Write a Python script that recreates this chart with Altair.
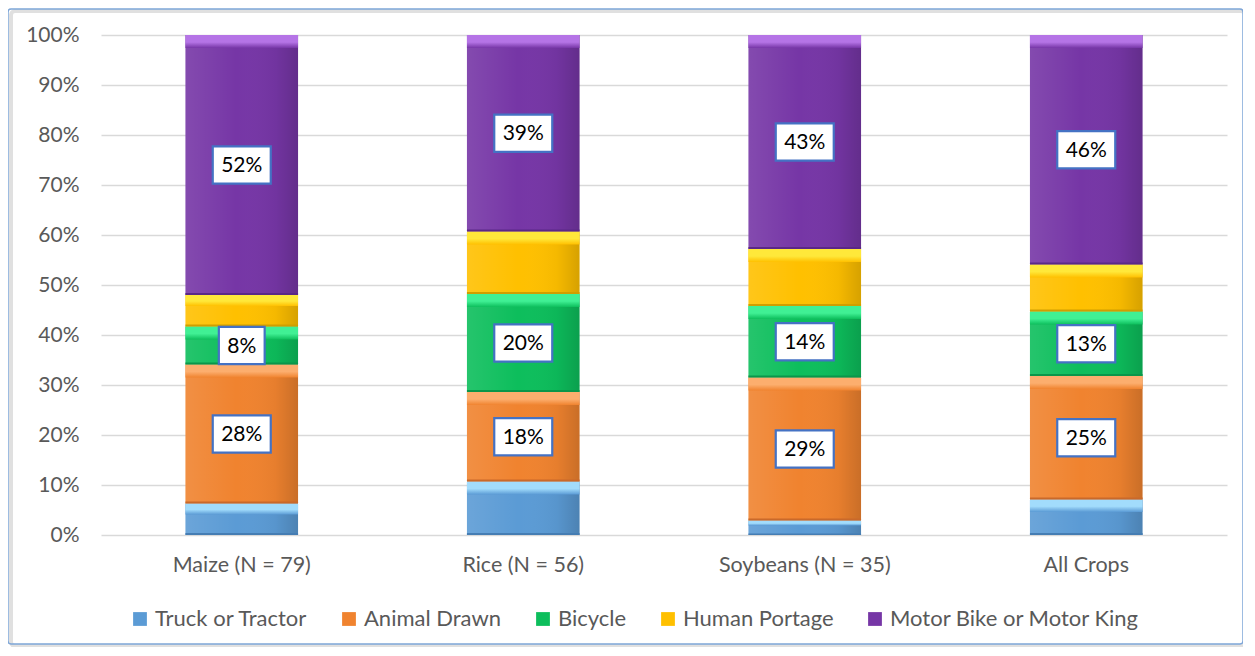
import altair as alt
import pandas as pd

categories = ["Maize (N = 79)", "Rice (N = 56)", "Soybeans (N = 35)", "All Crops"]
series = ["Truck or Tractor", "Animal Drawn", "Bicycle", "Human Portage", "Motor Bike or Motor King"]
truck = [6.3, 10.7, 2.9, 7.1]
animal = [27.8, 17.9, 28.6, 24.7]
bicycle = [7.6, 19.6, 14.3, 12.9]
human = [6.3, 12.5, 11.4, 9.4]
motor = [52.0, 39.3, 42.8, 45.9]
labelled = ["Animal Drawn", "Bicycle", "Motor Bike or Motor King"]
y_ticks = [0, 10, 20, 30, 40, 50, 60, 70, 80, 90, 100]

main_colors = ["#5B9BD5", "#F0832F", "#0DBE5C", "#FFC000", "#7636A6"]
light_colors = ["#A2DCFC", "#FCAE6E", "#40F094", "#FFE83A", "#B574E6"]
dark_colors = ["#457DB3", "#C9692A", "#0A964A", "#D09E00", "#5A2887"]

FONT = "Lato"
GREY = "#595959"

values = [truck, animal, bicycle, human, motor]
rows = []
for ci, cat in enumerate(categories):
    start = 0.0
    for si, s in enumerate(series):
        v = values[si][ci]
        end = start + v
        seg = end - start
        lab = f"{round(v)}%" if s in labelled else ""
        rows.append(dict(
            cat=cat, series=s, order=si, value=v, start=start, end=end,
            mid=(start + end) / 2,
            top_lo=end - min(2.6, 0.35 * seg),
            bot_hi=start + min(0.4, 0.1 * seg),
            dark=dark_colors[si],
            label=lab, box=("1" if len(lab) == 2 else "2"),
        ))
        start = end
df = pd.DataFrame(rows)
lab_df = df[df["label"] != ""]

x_enc = alt.X("cat:N", sort=categories, title=None,
              scale=alt.Scale(paddingInner=0.6, paddingOuter=0.3),
              axis=alt.Axis(labelAngle=0, labelFont=FONT, labelFontSize=21.5, labelColor=GREY,
                            labelPadding=19, ticks=False, domain=False, grid=False))
y_enc = alt.Y("start:Q", title=None,
              scale=alt.Scale(domain=[0, 100], nice=False),
              axis=alt.Axis(values=y_ticks, labelExpr="datum.value + '%'", labelFont=FONT,
                            labelFontSize=21, labelColor=GREY, labelPadding=22,
                            ticks=False, domain=False, gridColor="#D9D9D9", gridWidth=1.5))

base = alt.Chart(df)

main = base.mark_bar(strokeWidth=0).encode(
    x=x_enc, y=y_enc, y2="end:Q",
    color=alt.Color("series:N", sort=series,
                    scale=alt.Scale(domain=series, range=main_colors),
                    legend=alt.Legend(orient="none", legendX=28, legendY=573, direction="horizontal",
                                      title=None, symbolType="square", symbolSize=190,
                                      symbolStrokeWidth=0, labelFont=FONT, labelFontSize=22,
                                      labelColor=GREY, columnPadding=30, labelOffset=4,
                                      labelLimit=0)),
)

shade = base.mark_bar(
    color=alt.Gradient(gradient="linear", x1=0, x2=1, y1=0, y2=0,
                       stops=[alt.GradientStop(offset=0, color="rgba(255,255,255,0.10)"),
                              alt.GradientStop(offset=0.45, color="rgba(255,255,255,0.0)"),
                              alt.GradientStop(offset=0.8, color="rgba(0,0,0,0.04)"),
                              alt.GradientStop(offset=1, color="rgba(0,0,0,0.16)")])
).encode(x=alt.X("cat:N", sort=categories), y="start:Q", y2="end:Q")

tops = []
for si, s in enumerate(series):
    tops.append(
        base.transform_filter(alt.datum.series == s).mark_bar(
            strokeWidth=0,
            color=alt.Gradient(gradient="linear", x1=0, x2=0, y1=0, y2=1,
                               stops=[alt.GradientStop(offset=0, color=light_colors[si]),
                                      alt.GradientStop(offset=0.55, color=light_colors[si]),
                                      alt.GradientStop(offset=1, color=main_colors[si])])
        ).encode(x=alt.X("cat:N", sort=categories), y="top_lo:Q", y2="end:Q")
    )

bottom = base.mark_bar(strokeWidth=0).encode(
    x=alt.X("cat:N", sort=categories), y="start:Q", y2="bot_hi:Q",
    fill=alt.Fill("dark:N", scale=None),
)

box2 = "M-1,-0.64H1V0.64H-1Z"
box1 = "M-0.79,-0.64H0.79V0.64H-0.79Z"
boxes = alt.Chart(lab_df).mark_point(filled=False, fill="white", fillOpacity=1, opacity=1,
                                     stroke="#4472C4", strokeWidth=2.2, size=3364).encode(
    x=alt.X("cat:N", sort=categories), y=alt.Y("mid:Q"),
    shape=alt.Shape("box:N", scale=alt.Scale(domain=["1", "2"], range=[box1, box2]), legend=None),
)
texts = alt.Chart(lab_df).mark_text(font=FONT, fontSize=21, color="black", baseline="middle", dy=1).encode(
    x=alt.X("cat:N", sort=categories), y=alt.Y("mid:Q"), text="label:N",
)

frame_df = pd.DataFrame({"k": [0]})
shadow = alt.Chart(frame_df).mark_rect(fill="none", stroke="#E0E0E0", strokeWidth=4, cornerRadius=4).encode(
    x=alt.value(-90), x2=alt.value(1144), y=alt.value(-24), y2=alt.value(611),
)
frame = alt.Chart(frame_df).mark_rect(fill="none", stroke="#7EA6D8", strokeWidth=1.5, cornerRadius=3).encode(
    x=alt.value(-93), x2=alt.value(1142), y=alt.value(-26), y2=alt.value(609),
)

chart = alt.layer(shadow, frame, main, shade, *tops, bottom, boxes, texts).resolve_scale(
    fill="independent", shape="independent"
).properties(
    width=1126, height=500,
    autosize=alt.AutoSizeParams(type="none"),
    padding={"left": 93, "top": 27, "right": 16, "bottom": 112},
    background="white",
).configure_view(stroke=None)

chart.save("out.html", embed_options={"renderer": "svg", "actions": False})
